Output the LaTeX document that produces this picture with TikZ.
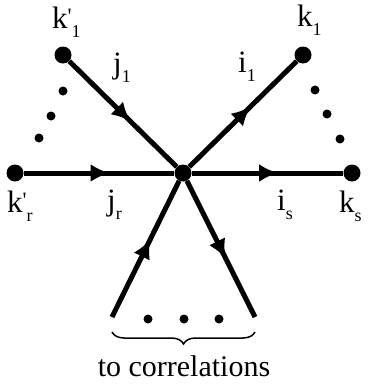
\documentclass[tikz,border=0pt]{standalone}
\usepackage{fontspec}
\setmainfont{Liberation Serif}
\usetikzlibrary{arrows.meta,decorations.markings,decorations.pathreplacing}

\newcommand{\sublab}[3]{#1{\fontsize{22}{22}\selectfont\raisebox{5pt}{#2}}\raisebox{-9pt}{\fontsize{18}{18}\selectfont #3}}

\tikzset{
  bigdot/.style={circle,fill,inner sep=0pt,minimum size=17pt},
  smalldot/.style={circle,fill,inner sep=0pt,minimum size=9pt},
  leg/.style={line width=5pt,postaction={decorate},
    decoration={markings,mark=at position 0.57 with {\arrow{Latex[length=19pt,width=18pt]}}}},
  lab/.style={font=\fontsize{31}{34}\selectfont,inner sep=0pt,anchor=base west}
}

\begin{document}
\begin{tikzpicture}[x=1pt,y=-1pt]

\useasboundingbox (0,0) rectangle (370,388);

% vertex and external points
\node[bigdot] (v) at (183,173) {};
\node[bigdot] (k1p) at (63,55) {};
\node[bigdot] (krp) at (15,173) {};
\node[bigdot] (k1) at (303,55) {};
\node[bigdot] (ks) at (352,173) {};
\coordinate (bl) at (112,317);
\coordinate (br) at (255,317);

% legs
\draw[leg] (k1p) -- (v);
\draw[leg] (krp) -- (v);
\draw[leg] (v) -- (k1);
\draw[leg] (v) -- (ks);
\draw[leg] (bl) -- (v);
\draw[leg] (v) -- (br);

% dots
\node[smalldot] (l1) at (63,91) {};
\node[smalldot] (l2) at (51,116) {};
\node[smalldot] (l3) at (39,138) {};
\node[smalldot] (r1) at (315,90) {};
\node[smalldot] (r2) at (327,114) {};
\node[smalldot] (r3) at (340,139) {};
\node[smalldot] (d1) at (148,319) {};
\node[smalldot] (d2) at (184,319) {};
\node[smalldot] (d3) at (219,319) {};

% labels
\node[lab] (tk1p) at (52,28) {\sublab{k}{\textquotesingle}{1}};
\node[lab] (tj1) at (113,73) {\sublab{j}{}{1}};
\node[lab] (ti1) at (238,72) {\sublab{i}{}{1}};
\node[lab] (tk1) at (297,27) {\sublab{k}{}{1}};
\node[lab] (tkrp) at (7,212) {\sublab{k}{\textquotesingle}{r}};
\node[lab] (tjr) at (107,210) {\sublab{j}{}{r}};
\node[lab] (tis) at (277,210) {\sublab{i}{}{s}};
\node[lab] (tks) at (339,212) {\sublab{k}{}{s}};

% brace
\draw[line width=1.5pt,decorate,decoration={brace,mirror,amplitude=12pt}]
(bl |- 0,332) -- (br |- 0,332);
\node[font=\fontsize{30}{34}\selectfont,inner sep=0pt] (tc) at (184,366) {to correlations};

\end{tikzpicture}
\end{document}
